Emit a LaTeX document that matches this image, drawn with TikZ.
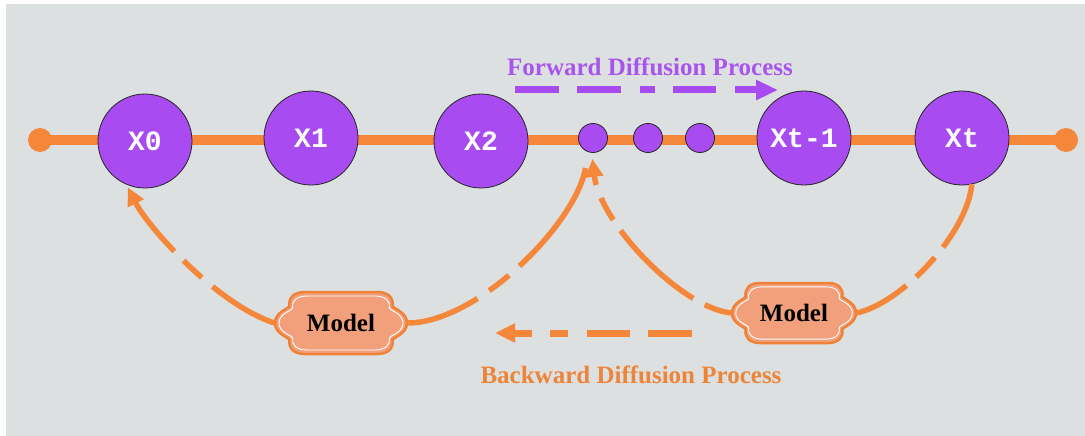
\documentclass[tikz,border=0pt]{standalone}
\usepackage{fontspec}
\setmainfont{Liberation Serif}
\newfontfamily\labelmono{Liberation Mono}
\usetikzlibrary{arrows.meta}

\definecolor{bggray}{HTML}{DDE0E0}
\definecolor{chainorange}{HTML}{F5873A}
\definecolor{statepurple}{HTML}{A84CF2}
\definecolor{modelfill}{HTML}{F2A07C}
\definecolor{modeledge}{HTML}{F08238}
\definecolor{fwdtext}{HTML}{A855EE}
\definecolor{bwdtext}{HTML}{EE8438}

% outline of the scalloped "Model" badge, in units of its half-width / half-height
\newcommand\scrollpath{(-0.55,-1) -- (0.55,-1)
  .. controls (0.72,-1) and (0.80,-0.8) .. (0.78,-0.55)
  .. controls (0.80,-0.45) and (1,-0.35) .. (1,0)
  .. controls (1,0.35) and (0.80,0.45) .. (0.78,0.55)
  .. controls (0.80,0.8) and (0.72,1) .. (0.55,1)
  -- (-0.55,1)
  .. controls (-0.72,1) and (-0.80,0.8) .. (-0.78,0.55)
  .. controls (-0.80,0.45) and (-1,0.35) .. (-1,0)
  .. controls (-1,-0.35) and (-0.80,-0.45) .. (-0.78,-0.55)
  .. controls (-0.80,-0.8) and (-0.72,-1) .. cycle}

% #1 centre, #2 half-width, #3 half-height
\newcommand\scrollbadge[3]{%
  \begin{scope}[shift={#1}, xscale=#2, yscale=#3]
    \fill[modelfill, draw=modeledge, line width=2.5pt] \scrollpath;
    \begin{scope}[xscale=0.94, yscale=0.87]
      \draw[white, line width=0.9pt] \scrollpath;
    \end{scope}
  \end{scope}}

\tikzset{
  state/.style={circle, draw=black!85, line width=0.8pt, fill=statepurple,
    minimum size=94pt, inner sep=0pt, text=white,
    font=\labelmono\bfseries\fontsize{28}{28}\selectfont},
  dotstate/.style={circle, draw=black!85, line width=0.8pt, fill=statepurple,
    minimum size=29pt, inner sep=0pt},
  enddot/.style={circle, fill=chainorange, minimum size=24pt, inner sep=0pt},
  chain/.style={draw=chainorange, line width=10pt},
  modelbox/.style={minimum width=133pt, minimum height=63pt, inner sep=0pt,
    font=\bfseries\fontsize{25}{25}\selectfont},
  backflow/.style={draw=chainorange, line width=5.5pt},
  backhead/.style={-{Triangle[length=18pt,width=17pt]}},
  fwdflow/.style={draw=statepurple, line width=7pt,
    dash pattern=on 44pt off 18pt on 44pt off 19pt on 15pt off 18pt on 43pt off 19pt on 40pt,
    -{Triangle[length=22pt,width=19pt]}},
  bwdflow/.style={draw=chainorange, line width=7pt,
    dash pattern=on 44pt off 18pt on 43pt off 19pt on 18pt off 18pt on 40pt,
    -{Triangle[length=20pt,width=18pt]}},
  caption/.style={font=\bfseries\fontsize{25}{25}\selectfont}
}

\begin{document}
\begin{tikzpicture}[x=1pt, y=-1pt]
  \useasboundingbox (0,0) rectangle (1085,436);
  \fill[white] (0,0) rectangle (1085,436);
  \fill[bggray] (6,4) rectangle (1085,436);

  % chain of states
  \node[enddot] (ls) at (40,140) {};
  \node[enddot] (le) at (1066,140) {};
  \draw[chain] (ls.center) -- (le.center);

  \node[state] (x0) at (145,141) {X0};
  \node[state] (x1) at (311,138) {X1};
  \node[state] (x2) at (481,141) {X2};
  \node[dotstate] (d1) at (593,138) {};
  \node[dotstate] (d2) at (648,138) {};
  \node[dotstate] (d3) at (700,138) {};
  \node[state] (xt1) at (804,138) {Xt-1};
  \node[state] (xt) at (962,138) {Xt};

  % forward process
  \node[caption, text=fwdtext] (fwd) at (650,67) {Forward Diffusion Process};
  \coordinate (fs) at (515,90);
  \coordinate (fe) at (778,90);
  \draw[fwdflow] (fs) -- (fe);

  % models
  \scrollbadge{(341,323)}{66}{31}
  \node[modelbox] (m1) at (341,323) {Model};
  \scrollbadge{(794,313)}{62}{30}
  \node[modelbox, minimum width=125pt, minimum height=60pt] (m2) at (794,313) {Model};

  % backward flow
  \draw[backflow, backhead, shorten >=3pt,
        dash pattern=on 72pt off 14pt on 25pt off 13pt on 120pt]
    (m1.west) .. controls +(-60,-20) and +(20,40) .. (x0.247);
  \draw[backflow, shorten >=14pt,
        dash pattern=on 75pt off 14pt on 25pt off 14pt on 120pt]
    (m1.east) .. controls +(70,0) and +(-10,70) .. (d1.250);
  \draw[backflow, backhead, shorten >=6pt,
        dash pattern=on 28pt off 13pt on 100pt off 13pt on 25pt off 14pt on 60pt]
    (m2.west) .. controls +(-50,-5) and +(8,70) .. (d1.265);
  \draw[backflow,
        dash pattern=on 70pt off 13pt on 27pt off 13pt on 120pt]
    (xt.282) .. controls +(-5,50) and +(45,-10) .. (m2.east);

  % backward process
  \coordinate (bs) at (692,333);
  \coordinate (be) at (495,333);
  \draw[bwdflow] (bs) -- (be);
  \node[caption, text=bwdtext] (bwd) at (631,375) {Backward Diffusion Process};
\end{tikzpicture}
\end{document}
